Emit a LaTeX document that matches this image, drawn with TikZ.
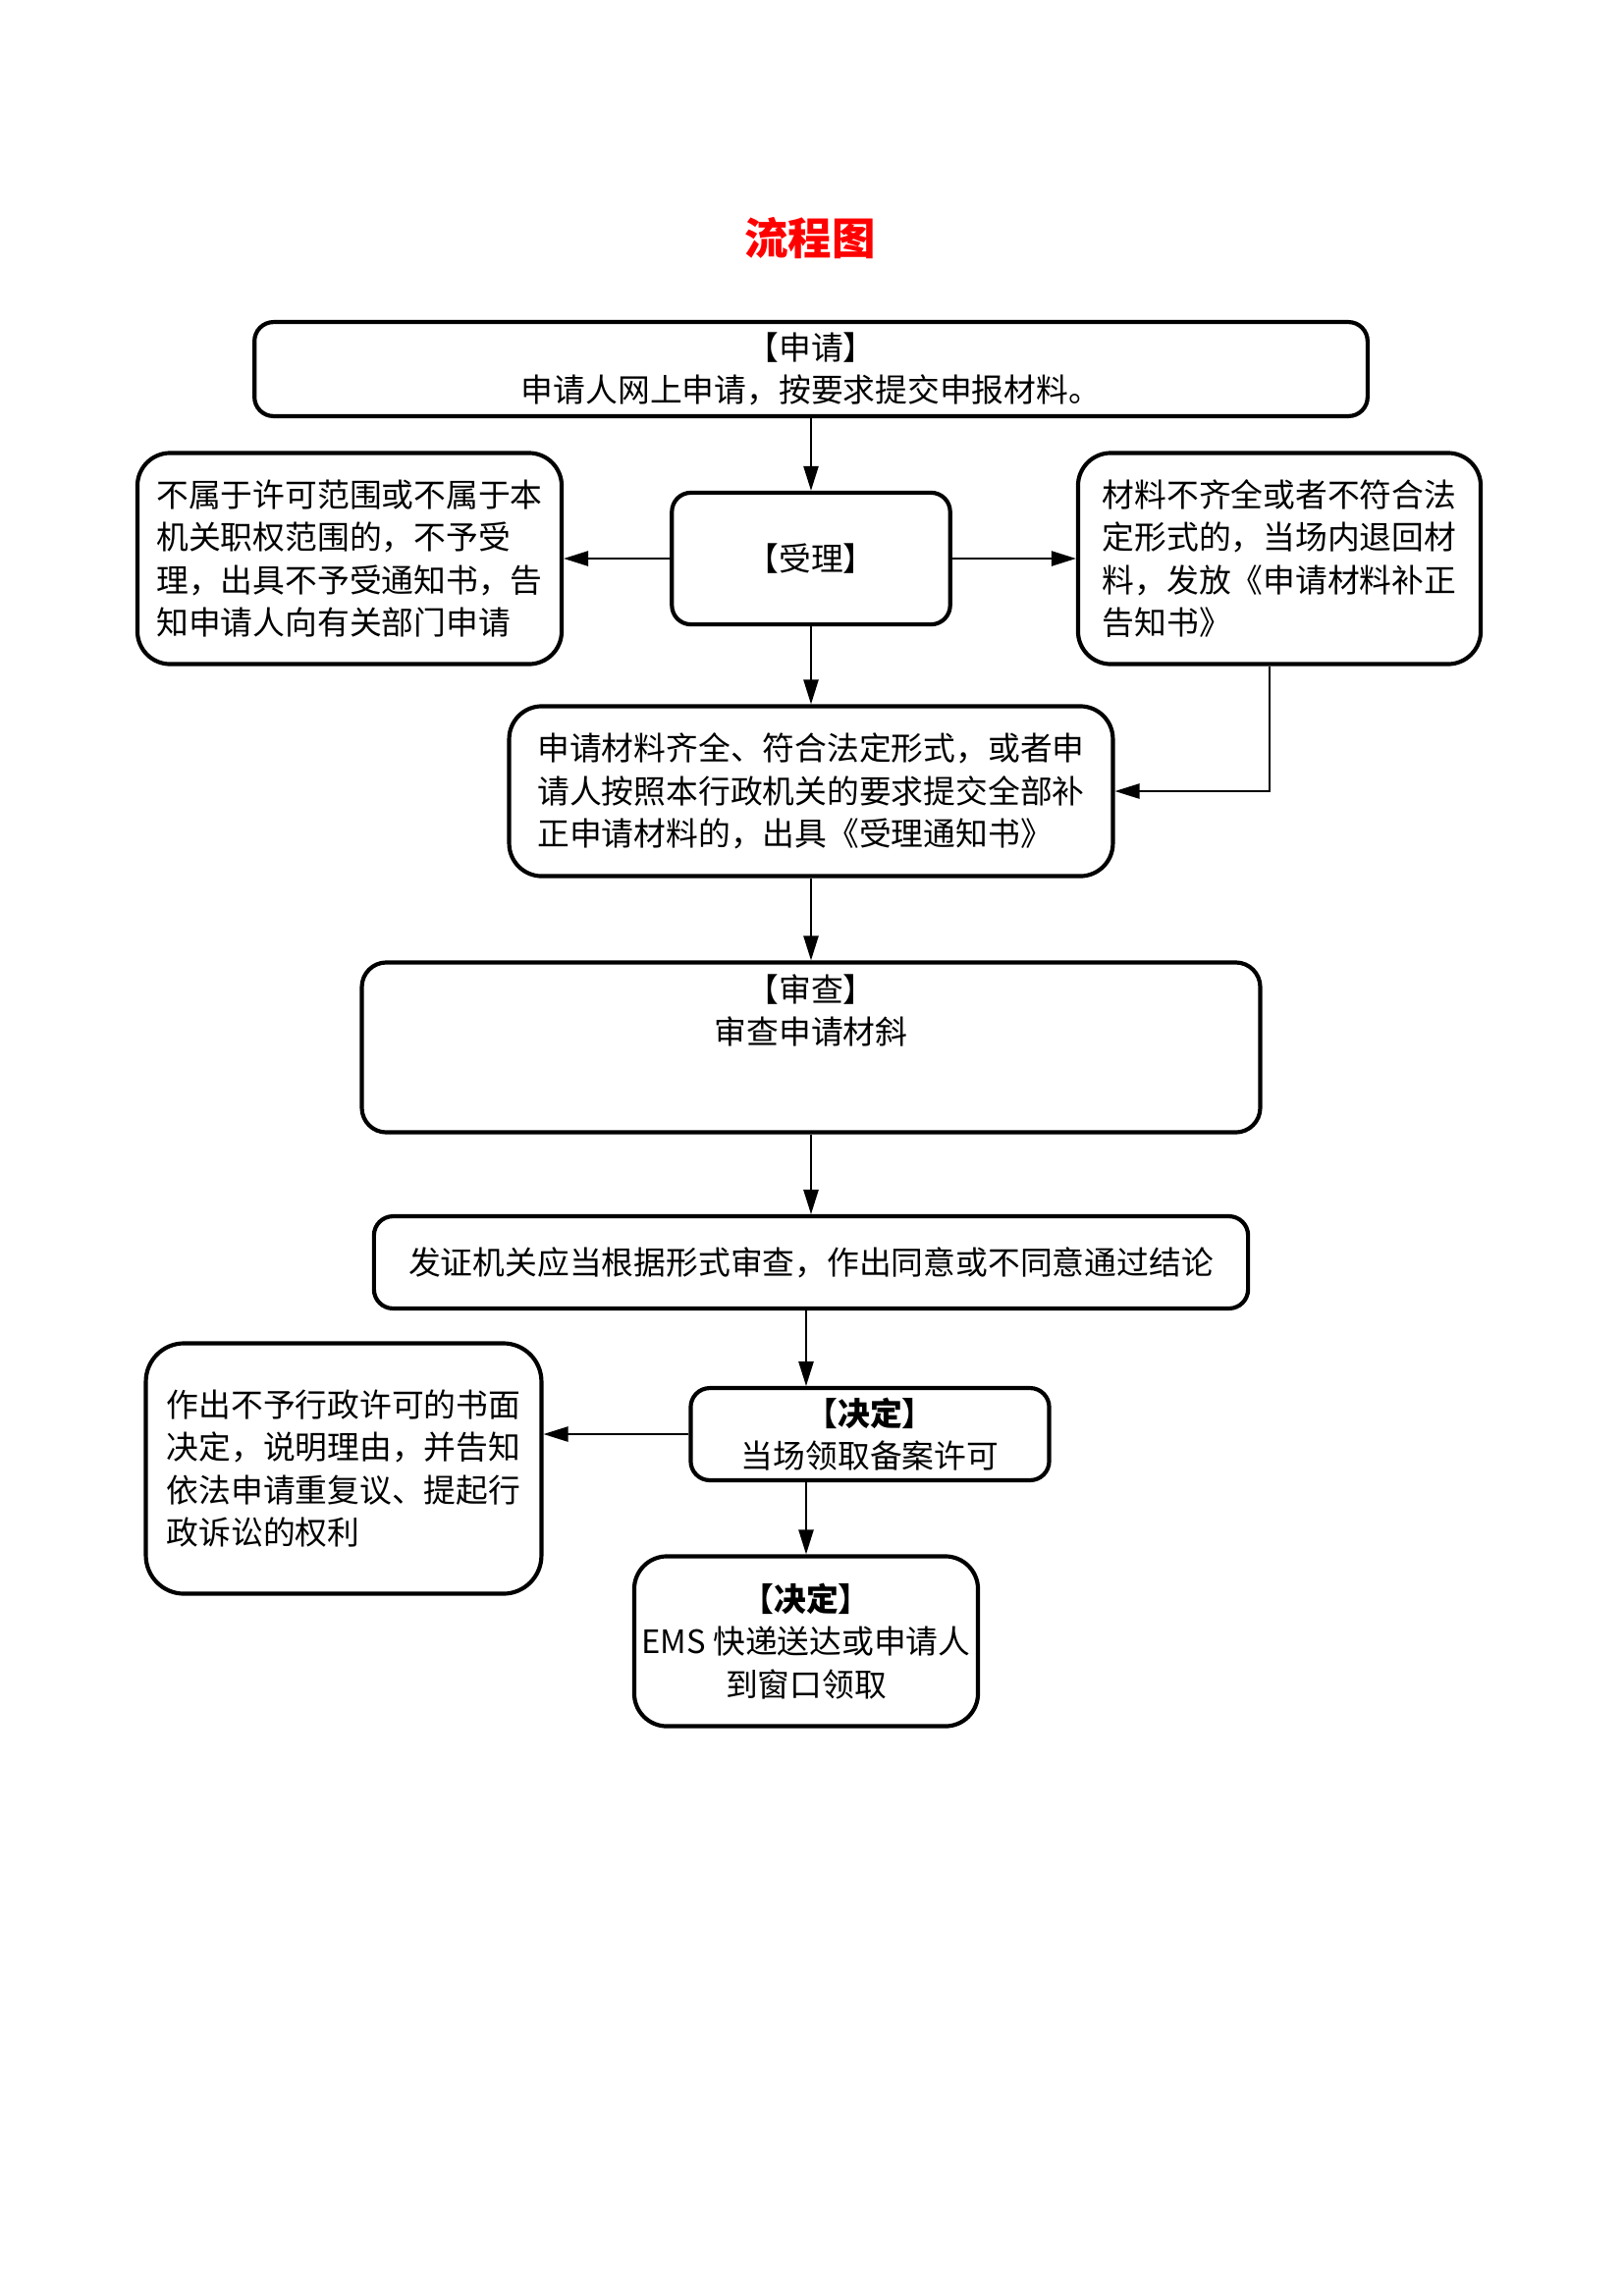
\documentclass[tikz,border=0pt]{standalone}
\usepackage{fontspec}
\setmainfont{Noto Sans CJK SC}
\usetikzlibrary{arrows.meta}

\begin{document}
\begin{tikzpicture}[x=0.3599pt, y=-0.3599pt,
    box/.style={draw, line width=1.5pt, rounded corners=7pt, align=center,
      font=\fontsize{11.8pt}{15.6pt}\selectfont, inner sep=0pt},
    bigbox/.style={box, rounded corners=12pt, align=left},
    arr/.style={-{Triangle[length=9pt,width=5.5pt]}, line width=0.6pt}]
  \useasboundingbox (0,0) rectangle (1654,2339);

  \node[red, font=\fontsize{16pt}{19pt}\selectfont\bfseries] (T) at (825,243) {流程图};

  \node[box, minimum width=408pt, minimum height=34.5pt] (A) at (826,376)
    {【申请】\\申请人网上申请，按要求提交申报材料。};
  \node[bigbox, minimum width=155.5pt, minimum height=77.4pt] (L) at (356,569)
    {不属于许可范围或不属于本\\机关职权范围的，不予受\\理，出具不予受通知书，告\\知申请人向有关部门申请};
  \node[box, minimum width=102pt, minimum height=48.3pt] (S) at (826,569) {【受理】};
  \node[bigbox, minimum width=147.6pt, minimum height=77.4pt] (R) at (1303,569)
    {材料不齐全或者不符合法\\定形式的，当场内退回材\\料，发放《申请材料补正\\告知书》};
  \node[bigbox, minimum width=221.3pt, minimum height=62.3pt] (N) at (826,806)
    {申请材料齐全、符合法定形式，或者申\\请人按照本行政机关的要求提交全部补\\正申请材料的，出具《受理通知书》};

  \node[box, rounded corners=9pt, minimum width=329.3pt, minimum height=62.3pt] (E) at (826,1067) {};
  \node[align=center, anchor=north, inner sep=0pt, font=\fontsize{11.8pt}{15.6pt}\selectfont]
    (E1) at ([yshift=-5pt]E.north) {【审查】\\审查申请材斜};
  \node[box, minimum width=320.4pt, minimum height=33.8pt] (C) at (826,1286)
    {发证机关应当根据形式审查，作出同意或不同意通过结论};

  \node[bigbox, rounded corners=14pt, minimum width=145pt, minimum height=91.8pt] (F) at (350,1496)
    {作出不予行政许可的书面\\决定，说明理由，并告知\\依法申请重复议、提起行\\政诉讼的权利};
  \node[box, minimum width=131.4pt, minimum height=33.8pt] (D) at (886,1461)
    {\textbf{【决定】}\\当场领取备案许可};
  \node[box, rounded corners=12pt, minimum width=126pt, minimum height=62.3pt] (M) at (821,1672)
    {\textbf{【决定】}\\EMS 快递送达或申请人\\到窗口领取};

  \draw[arr] (A) -- (S);
  \draw[arr] (S) -- (L);
  \draw[arr] (S) -- (R);
  \draw[arr] (S) -- (N);
  \draw[arr] ([xshift=-3.6pt]R.south) |- (N.east);
  \draw[arr] (N) -- (E);
  \draw[arr] (E) -- (C);
  \draw[arr] (C.south -| M) -- (D.north -| M);
  \draw[arr] (D.west) -- (D.west -| F.east);
  \draw[arr] (D.south -| M) -- (M);
\end{tikzpicture}
\end{document}
